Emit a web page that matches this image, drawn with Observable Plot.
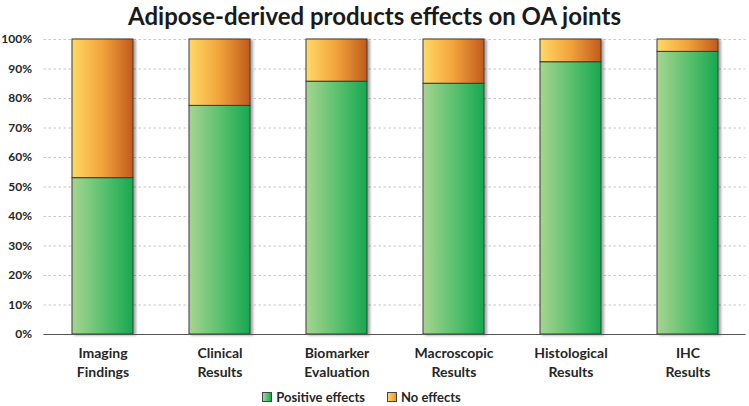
<!DOCTYPE html>
<html>
<head>
<meta charset="utf-8">
<script src="https://cdn.jsdelivr.net/npm/d3@7"></script>
<script src="https://cdn.jsdelivr.net/npm/@observablehq/plot@0.6"></script>
<style>
  html, body { margin: 0; padding: 0; background: #fff; }
  body { width: 749px; height: 406px; overflow: hidden; font-family: Lato, "Open Sans", sans-serif; color: #262626; }
  #title { height: 32px; line-height: 32px; text-align: center; font-size: 24px; font-weight: bold; color: #1a1a1a; }
  #chart svg { display: block; }
  #legend { height: 19px; display: flex; justify-content: center; align-items: center; gap: 22px; font-size: 13px; font-weight: bold; padding-right: 26px; }
  #legend span.item { display: inline-flex; align-items: center; gap: 4px; }
  #legend i { display: inline-block; width: 8px; height: 8px; border: 1px solid #444; }
</style>
</head>
<body>
<div id="title">Adipose-derived products effects on OA joints</div>
<div id="chart"></div>
<div id="legend"></div>
<script>
const categories = ["Imaging Findings", "Clinical Results", "Biomarker Evaluation", "Macroscopic Results", "Histological Results", "IHC Results"];
const seriesNames = ["Positive effects", "No effects"];
const positive = [53, 77.5, 85.7, 85, 92.3, 95.8];
const noEffect = [47, 22.5, 14.3, 15, 7.7, 4.2];
const yTicks = [0, 10, 20, 30, 40, 50, 60, 70, 80, 90, 100];
const fills = ["url(#gGreen)", "url(#gOrange)"];

const rows = [];
categories.forEach((c, i) => {
  rows.push({cat: c, series: seriesNames[0], value: positive[i]});
  rows.push({cat: c, series: seriesNames[1], value: noEffect[i]});
});

const plot = Plot.plot({
  width: 749,
  height: 355,
  marginTop: 7,
  marginBottom: 53,
  marginLeft: 43.5,
  marginRight: 3.5,
  style: {fontFamily: "Lato, 'Open Sans', sans-serif", color: "#262626", background: "#fff"},
  x: {domain: categories, paddingInner: 0.48, paddingOuter: 0.24, label: null},
  y: {domain: [0, 100], label: null},
  color: {type: "ordinal", domain: seriesNames, range: fills},
  marks: [
    Plot.gridY(yTicks, {stroke: "#c8c8c8", strokeOpacity: 1, strokeDasharray: "2.5,2.5"}),
    Plot.barY(rows, Plot.stackY({x: "cat", y: "value", fill: "series", stroke: "#3a3a3a", strokeWidth: 1, inset: 0})),
    Plot.ruleY([0], {stroke: "#555", strokeWidth: 1.2}),
    Plot.axisY(yTicks, {tickSize: 0, tickPadding: 12, tickFormat: d => d + "%", fontSize: 12, fontWeight: "bold", label: null}),
    Plot.axisX({tickSize: 0, tickPadding: 11, tickFormat: d => d.replace(" ", "\n"), fontSize: 14, fontWeight: "bold", lineHeight: 1.3, label: null})
  ]
});

// gradients and shadow
const svgNS = "http://www.w3.org/2000/svg";
const defs = document.createElementNS(svgNS, "defs");
defs.innerHTML = `
  <linearGradient id="gGreen" x1="0" x2="1" y1="0" y2="0">
    <stop offset="0" stop-color="#a6d590"/>
    <stop offset="0.5" stop-color="#5cc270"/>
    <stop offset="1" stop-color="#17a850"/>
  </linearGradient>
  <linearGradient id="gOrange" x1="0" x2="1" y1="0" y2="0">
    <stop offset="0" stop-color="#ffd966"/>
    <stop offset="0.5" stop-color="#f2a33a"/>
    <stop offset="1" stop-color="#c05b1d"/>
  </linearGradient>
  <filter id="shadow" x="-20%" y="-5%" width="140%" height="115%">
    <feDropShadow dx="2.5" dy="1" stdDeviation="1.2" flood-color="#000" flood-opacity="0.35"/>
  </filter>`;
plot.insertBefore(defs, plot.firstChild);
const barGroup = plot.querySelector('g[aria-label="bar"]');
if (barGroup) barGroup.setAttribute("filter", "url(#shadow)");
document.getElementById("chart").appendChild(plot);

// legend
const legend = document.getElementById("legend");
const sw = ["linear-gradient(to right, #a6d590, #17a850)", "linear-gradient(to right, #ffd966, #e8932e)"];
seriesNames.forEach((s, i) => {
  const item = document.createElement("span");
  item.className = "item";
  const box = document.createElement("i");
  box.style.background = sw[i];
  item.appendChild(box);
  item.appendChild(document.createTextNode(s));
  legend.appendChild(item);
});
</script>
</body>
</html>
